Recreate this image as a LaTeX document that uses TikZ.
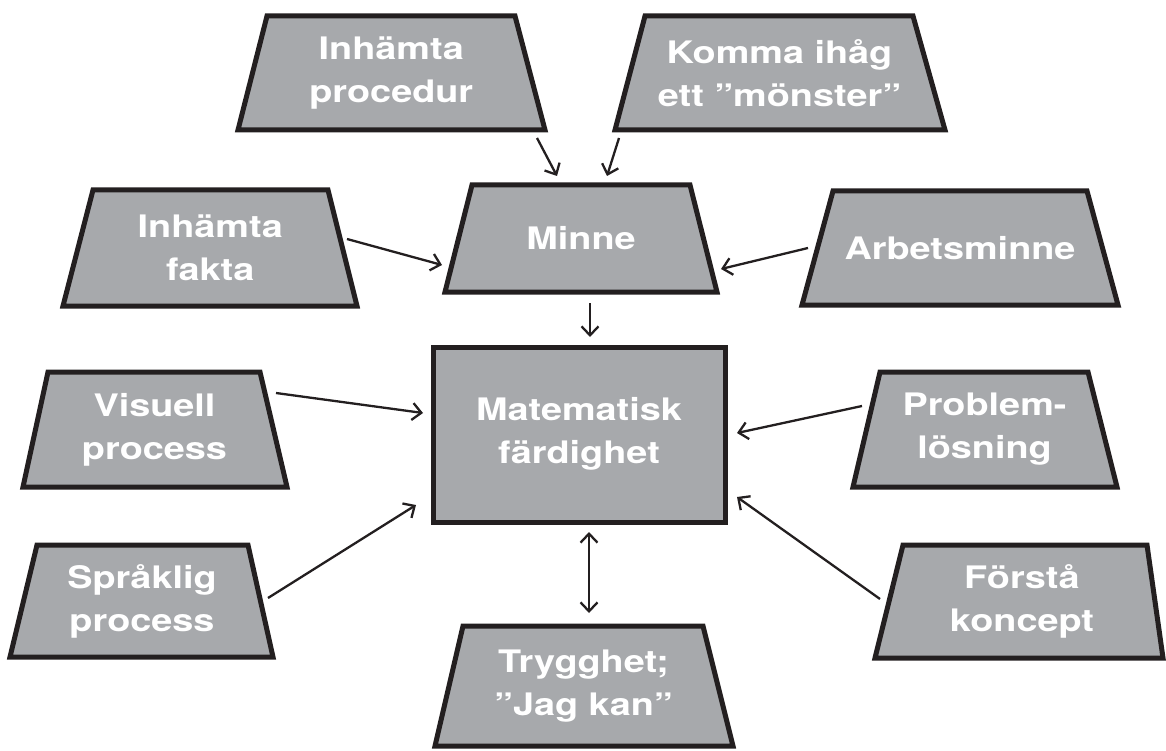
\documentclass[tikz,border=0pt]{standalone}
\usepackage{fontspec}
\setmainfont{TeX Gyre Heros}[FakeStretch=1.22]
\usetikzlibrary{arrows.meta}
\definecolor{boxgray}{HTML}{A7A9AC}
\definecolor{ink}{HTML}{231F20}
\newcommand{\mytrap}[8]{%
  \filldraw[boxshape] (#2,#4) -- (#3,#4) -- (#6,#7) -- (#5,#7) -- cycle;
  \node[lbl] (#1) at ({(#2+#3+#5+#6)/4},{(#4+#7)/2}) {#8};
}
\tikzset{
  boxshape/.style={fill=boxgray, draw=ink, line width=5pt, line join=miter},
  lbl/.style={text=white, align=center, font=\fontsize{31}{43}\selectfont\bfseries, inner sep=0pt},
  conn/.style={draw=ink, line width=2.3pt, -{Straight Barb[length=9pt,width=17pt,line width=2.3pt]}},
  conn2/.style={draw=ink, line width=2.3pt, {Straight Barb[length=9pt,width=17pt,line width=2.3pt]}-{Straight Barb[length=9pt,width=17pt,line width=2.3pt]}}
}
\begin{document}
\begin{tikzpicture}[x=1pt,y=-1pt]
\useasboundingbox (0,0) rectangle (1166,751);
% trapezoids
\mytrap{proc}{267}{515}{16}{238}{545}{130}{Inhämta\\procedur}
\mytrap{komma}{645}{913}{16}{615}{945}{130}{Komma ihåg\\ett ”mönster”}
\mytrap{fakta}{93}{328}{190}{63}{357}{306}{Inhämta\\fakta}
\mytrap{minne}{472}{690}{185}{445}{717}{292}{Minne}
\mytrap{arbets}{833}{1087}{191}{802}{1118}{305}{Arbetsminne}
\mytrap{visuell}{48}{260}{372}{23}{287}{487}{Visuell\\process}
\mytrap{problem}{880}{1088}{372}{853}{1117}{487}{Problem-\\lösning}
\mytrap{sprak}{37}{248}{545}{10}{273}{657}{Språklig\\process}
\mytrap{forsta}{903}{1147}{545}{875}{1163}{658}{Förstå\\koncept}
\mytrap{trygg}{463}{703}{626}{435}{733}{746}{Trygghet;\\”Jag kan”}
% central rectangle
\filldraw[boxshape] (433,347) rectangle (725,522);
\node[lbl] (mat) at (579,434) {Matematisk\\färdighet};
% connector end points
\coordinate (procA) at (537,138);   \coordinate (minneA) at (557,176);
\coordinate (kommaA) at (619,138);  \coordinate (minneB) at (607,176);
\coordinate (faktaA) at (347,239);  \coordinate (minneC) at (442,265);
\coordinate (arbetsA) at (808,248); \coordinate (minneD) at (721,269);
\coordinate (minneE) at (590,303);  \coordinate (matA) at (590,337);
\coordinate (visuellA) at (276,393);\coordinate (matB) at (423,413);
\coordinate (sprakA) at (268,598);  \coordinate (matC) at (416,505);
\coordinate (problemA) at (862,406);\coordinate (matD) at (737,433);
\coordinate (forstaA) at (880,599); \coordinate (matE) at (737,497);
\coordinate (matF) at (589,532);    \coordinate (tryggA) at (589,613);
% connectors
\draw[conn] (procA) -- (minneA);
\draw[conn] (kommaA) -- (minneB);
\draw[conn] (faktaA) -- (minneC);
\draw[conn] (arbetsA) -- (minneD);
\draw[conn] (minneE) -- (matA);
\draw[conn] (visuellA) -- (matB);
\draw[conn] (sprakA) -- (matC);
\draw[conn] (problemA) -- (matD);
\draw[conn] (forstaA) -- (matE);
\draw[conn2] (matF) -- (tryggA);
\end{tikzpicture}
\end{document}
